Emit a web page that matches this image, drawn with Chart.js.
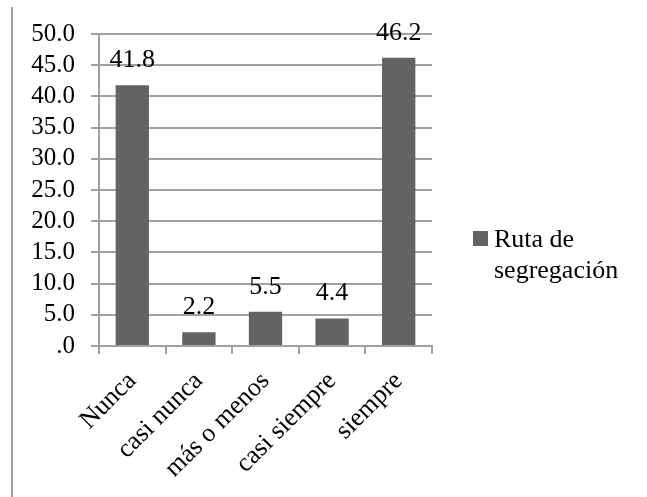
<!DOCTYPE html>
<html>
<head>
<meta charset="utf-8">
<script src="https://cdn.jsdelivr.net/npm/chart.js@4.4.1/dist/chart.umd.min.js"></script>
<style>
  html, body { margin: 0; padding: 0; background: #fff; }
  #wrap { position: relative; width: 647px; height: 497px; }
  #frame { position: absolute; left: 11px; top: 7px; width: 2px; height: 490px; background: #a0a0a0; }
  canvas { position: absolute; left: 0; top: 0; }
</style>
</head>
<body>
<div id="wrap">
  <div id="frame"></div>
  <canvas id="chart" width="647" height="497"></canvas>
</div>
<script>
const categories = ["Nunca", "casi nunca", "más o menos", "casi siempre", "siempre"];
const values = [41.8, 2.2, 5.5, 4.4, 46.2];
const seriesName = "Ruta de segregación";
const legendLines = ["Ruta de", "segregación"];
const yTickLabels = [".0", "5.0", "10.0", "15.0", "20.0", "25.0", "30.0", "35.0", "40.0", "45.0", "50.0"];

const barColor = "#636363";
const gridColor = "#a0a0a0";
const font = "'Liberation Serif', 'Times New Roman', serif";

// value labels above each bar
const valueLabels = {
  id: "valueLabels",
  afterDatasetsDraw(chart) {
    const ctx = chart.ctx;
    const meta = chart.getDatasetMeta(0);
    ctx.save();
    ctx.font = "26px " + font;
    ctx.fillStyle = "#000";
    ctx.textAlign = "center";
    ctx.textBaseline = "middle";
    meta.data.forEach((bar, i) => {
      ctx.fillText(values[i].toFixed(1), bar.x, bar.y - 25);
    });
    ctx.restore();
  }
};

// legend on the right, wrapped on two lines
const sideLegend = {
  id: "sideLegend",
  afterDraw(chart) {
    const ctx = chart.ctx;
    const x = 473, y = 231;
    ctx.save();
    ctx.fillStyle = barColor;
    ctx.fillRect(x, y, 15, 15);
    ctx.font = "26px " + font;
    ctx.fillStyle = "#000";
    ctx.textAlign = "left";
    ctx.textBaseline = "alphabetic";
    legendLines.forEach((line, i) => {
      ctx.fillText(line, x + 21, y + 16 + i * 31);
    });
    ctx.restore();
  }
};

const ctx = document.getElementById("chart").getContext("2d");
new Chart(ctx, {
  type: "bar",
  data: {
    labels: categories,
    datasets: [{
      label: seriesName,
      data: values,
      backgroundColor: barColor,
      borderWidth: 0,
      categoryPercentage: 1.0,
      barPercentage: 0.5
    }]
  },
  options: {
    responsive: false,
    animation: false,
    layout: { padding: { left: 0, right: 215, top: 34, bottom: 0 } },
    plugins: {
      legend: { display: false },
      tooltip: { enabled: false }
    },
    scales: {
      x: {
        afterFit(s) { s.height = 151; },
        grid: {
          display: true,
          drawOnChartArea: false,
          offset: true,
          color: gridColor,
          lineWidth: 2,
          tickLength: 8
        },
        border: { display: true, color: gridColor, width: 2 },
        ticks: {
          minRotation: 45,
          maxRotation: 45,
          autoSkip: false,
          padding: 12,
          color: "#000",
          font: { family: font, size: 26 }
        }
      },
      y: {
        min: 0,
        max: 50,
        afterFit(s) { s.width = 99; },
        grid: {
          color: gridColor,
          lineWidth: 2,
          tickLength: 8
        },
        border: { display: true, color: gridColor, width: 2 },
        ticks: {
          stepSize: 5,
          autoSkip: false,
          padding: 16,
          color: "#000",
          font: { family: font, size: 25 },
          callback: (v, i) => yTickLabels[i]
        }
      }
    }
  },
  plugins: [valueLabels, sideLegend]
});
</script>
</body>
</html>
